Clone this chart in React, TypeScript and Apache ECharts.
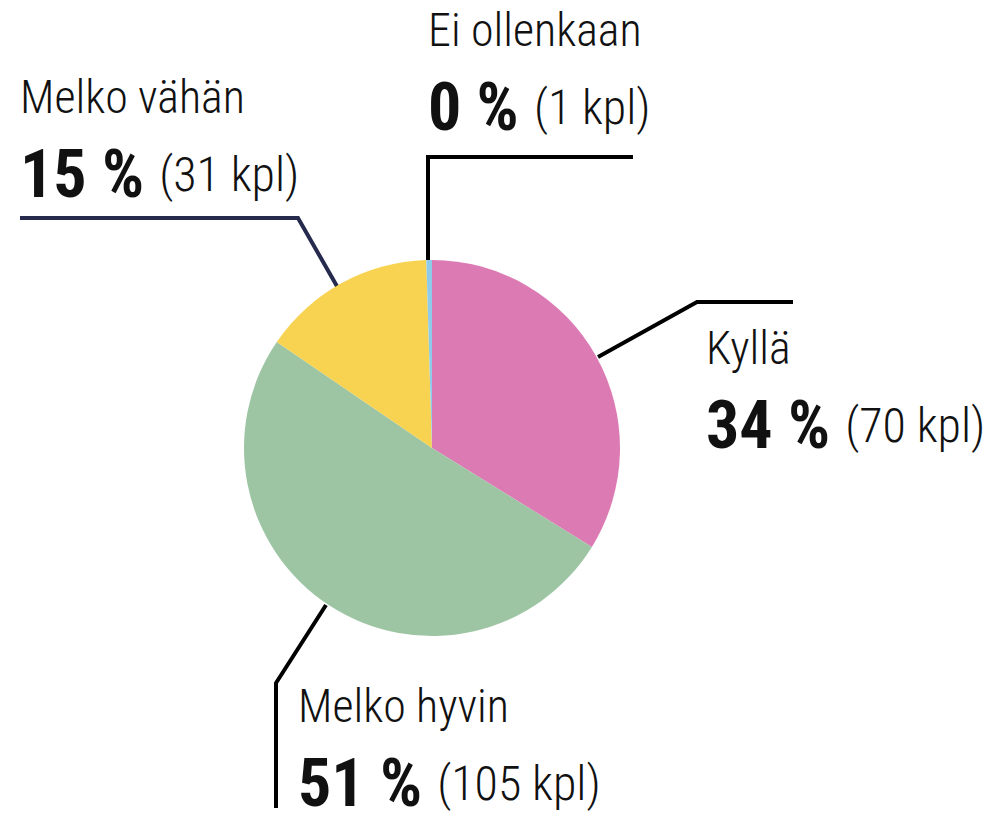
import React, { useEffect, useRef } from 'react';
import * as echarts from 'echarts';

const categories = ['Kyllä', 'Melko hyvin', 'Melko vähän', 'Ei ollenkaan'];
const counts = [70, 105, 31, 1];
const colors = ['#dc7ab4', '#9dc5a3', '#f8d352', '#8ecbeb'];
const lineColors = ['#000000', '#000000', '#262a4d', '#000000'];
const labelAnchors = [[706, 296], [298, 654], [20, 45], [428, -22]];
const labelLines = [
  [[598, 357], [697, 302], [793, 302]],
  [[326, 605], [276, 683], [276, 808]],
  [[338, 288], [298, 218], [20, 218]],
  [[428, 260], [428, 157], [633, 157]],
];

const FONT = "'Roboto Condensed', Roboto, sans-serif";

export default function App() {
  const ref = useRef<HTMLDivElement>(null);
  useEffect(() => {
    document.body.style.margin = '0';
    if (!ref.current) return;
    const chart = echarts.init(ref.current, undefined, { renderer: 'svg' });
    const total = counts.reduce((a, b) => a + b, 0);
    chart.setOption({
      animation: false,
      series: [
        {
          type: 'pie',
          center: [432, 448],
          radius: 188,
          startAngle: 90,
          clockwise: true,
          avoidLabelOverlap: false,
          itemStyle: { borderWidth: 0 },
          emphasis: { disabled: true },
          data: categories.map((name, i) => ({
            name,
            value: counts[i],
            itemStyle: { color: colors[i] },
            labelLine: { lineStyle: { color: lineColors[i] } },
          })),
          label: {
            show: true,
            position: 'outside',
            fontFamily: FONT,
            color: '#111',
            formatter: (p: any) =>
              `{n|${p.name}}\n{p|${Math.round((p.value / total) * 100)} % }{c|(${p.value} kpl)}`,
            rich: {
              n: { fontFamily: FONT, fontSize: 46, fontWeight: 300, color: '#111', lineHeight: 104 },
              p: { fontFamily: FONT, fontSize: 66, fontWeight: 'bold', color: '#111', lineHeight: 50 },
              c: { fontFamily: FONT, fontSize: 48, fontWeight: 300, color: '#111', lineHeight: 50 },
            },
          },
          labelLine: {
            show: true,
            length: 20,
            length2: 20,
            lineStyle: { width: 4, color: '#000' },
          },
          labelLayout: (params: any) => {
            const i = params.dataIndex;
            return {
              x: labelAnchors[i][0],
              y: labelAnchors[i][1],
              align: 'left',
              verticalAlign: 'top',
              labelLinePoints: labelLines[i],
            };
          },
        },
      ],
    });
    return () => chart.dispose();
  }, []);
  return <div ref={ref} style={{ width: 989, height: 819 }} />;
}
